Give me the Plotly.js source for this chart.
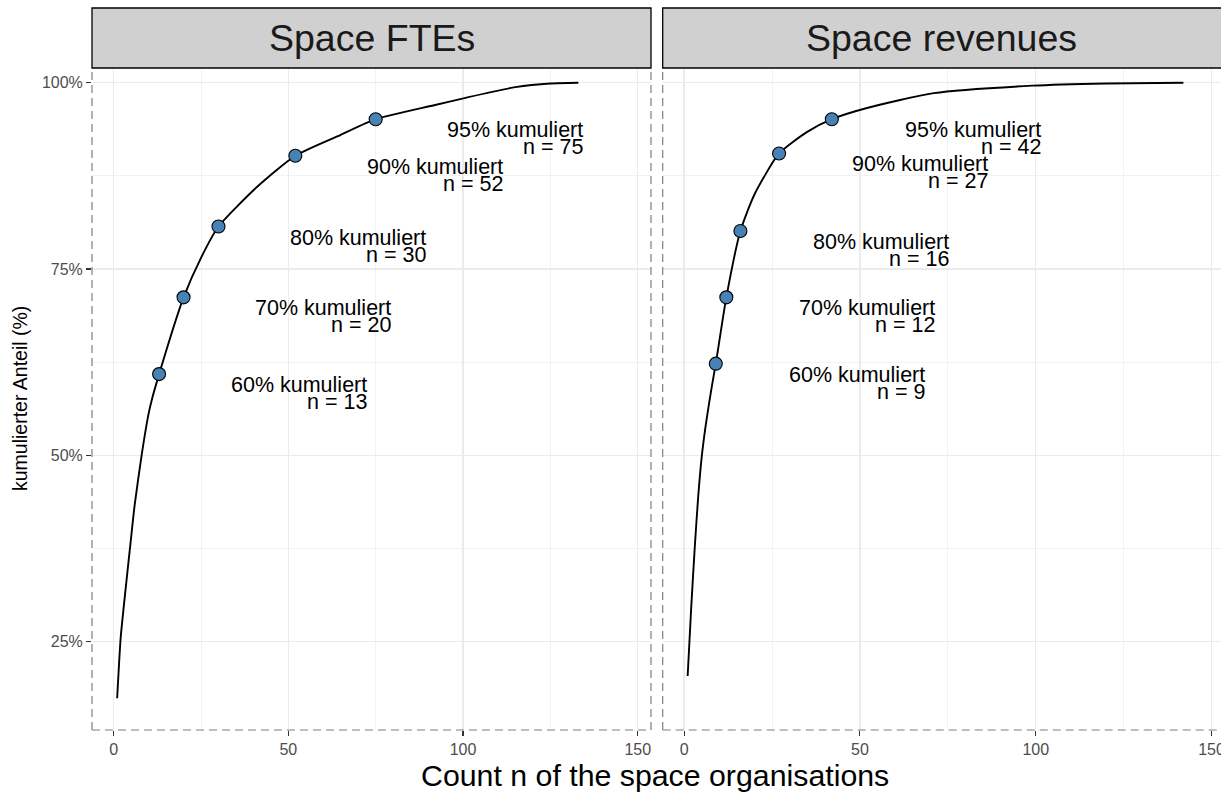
<!DOCTYPE html>
<html>
<head>
<meta charset="utf-8">
<script src="https://cdn.plot.ly/plotly-3.0.1.min.js"></script>
<style>html,body{margin:0;padding:0;background:#fff;}#chart{width:1221px;height:795px;}</style>
</head>
<body>
<div id="chart"></div>
<script>
// ---- data ----
const panelTitles = ["Space FTEs", "Space revenues"];
const fteN     = [1, 2, 3, 5, 6, 8, 10, 11, 13, 17, 20, 25, 30, 41, 52, 65, 75, 92, 101, 115, 125, 133];
const fteShare = [17.4, 25.5, 30.2, 39.0, 43.3, 50.0, 55.6, 57.6, 60.9, 67.0, 71.2, 76.5, 80.7, 86.0, 90.2, 93.0, 95.1, 97.0, 98.0, 99.4, 99.9, 100];
const revN     = [1, 2, 3, 4, 5, 6, 7, 8, 9, 12, 16, 20, 27, 35, 42, 52, 71, 99, 120, 142];
const revShare = [20.4, 29.5, 37.5, 44.5, 49.8, 53.6, 56.7, 59.6, 62.3, 71.2, 80.1, 85.0, 90.5, 93.4, 95.1, 96.6, 98.6, 99.6, 99.9, 100];
const thresholds   = ["60%", "70%", "80%", "90%", "95%"];
const fteMarkN     = [13, 20, 30, 52, 75];
const fteMarkShare = [60.9, 71.2, 80.7, 90.2, 95.1];
const revMarkN     = [9, 12, 16, 27, 42];
const revMarkShare = [62.3, 71.2, 80.1, 90.5, 95.1];
const xTicks = [0, 50, 100, 150];
const xMinor = [25, 75, 125];
const yTicks = [25, 50, 75, 100];
const yTickText = ["25%", "50%", "75%", "100%"];
const yMinor = [37.5, 62.5, 87.5];
const labelOffsetN = 60;

const FONT = "Liberation Sans, Arial, Helvetica, sans-serif";

function lineTrace(x, y, xa, ya) {
  return {x: x, y: y, xaxis: xa, yaxis: ya, type: "scatter", mode: "lines",
          line: {color: "#000", width: 1.9, shape: "spline", smoothing: 0.6},
          hoverinfo: "skip", showlegend: false};
}
function markTrace(x, y, xa, ya) {
  return {x: x, y: y, xaxis: xa, yaxis: ya, type: "scatter", mode: "markers",
          marker: {size: 13, color: "#4682b4", line: {color: "#000", width: 1.1}},
          hoverinfo: "skip", showlegend: false};
}
const data = [
  lineTrace(fteN, fteShare, "x", "y"),
  markTrace(fteMarkN, fteMarkShare, "x", "y"),
  lineTrace(revN, revShare, "x2", "y2"),
  markTrace(revMarkN, revMarkShare, "x2", "y2")
];

const annotations = [];
function addLabels(ns, shares, xref, yref) {
  for (let i = 0; i < ns.length; i++) {
    const base = {xref: xref, yref: yref, x: ns[i] + labelOffsetN, y: shares[i],
                  xanchor: "right", yanchor: "middle", showarrow: false,
                  font: {family: FONT, size: 21.5, color: "#000"}};
    annotations.push(Object.assign({}, base, {text: thresholds[i] + " kumuliert", yshift: -11}));
    annotations.push(Object.assign({}, base, {text: "n = " + ns[i], yshift: -28}));
  }
}
addLabels(fteMarkN, fteMarkShare, "x", "y");
addLabels(revMarkN, revMarkShare, "x2", "y2");

const plotH = 795 - 68 - 65;
const stripTop = 1 + 60 / plotH;
const stripMid = 1 + 30 / plotH;

["x", "x2"].forEach(function (xr, i) {
  annotations.push({xref: xr + " domain", yref: "paper", x: 0.5, y: stripMid,
    xanchor: "center", yanchor: "middle", showarrow: false, text: panelTitles[i],
    font: {family: FONT, size: 37.5, color: "#1a1a1a"}});
});
annotations.push({xref: "paper", yref: "paper", x: (654.5 - 92) / 1129, y: (730 - 775) / plotH,
  xanchor: "center", yanchor: "middle", showarrow: false,
  text: "Count n of the space organisations", font: {family: FONT, size: 30.3, color: "#000"}});
annotations.push({xref: "paper", yref: "paper", x: (20 - 92) / 1129, y: 0.5,
  xanchor: "center", yanchor: "middle", showarrow: false, textangle: -90,
  text: "kumulierter Anteil (%)", font: {family: FONT, size: 19.5, color: "#000"}});

const dashed = {color: "#7f7f7f", width: 1.2, dash: "8px,5px"};
const shapes = [
  {type: "line", xref: "x domain", yref: "paper", x0: 0, x1: 0, y0: 0, y1: 1, line: dashed},
  {type: "line", xref: "x domain", yref: "paper", x0: 0, x1: 1, y0: 0, y1: 0, line: dashed},
  {type: "line", xref: "x domain", yref: "paper", x0: 1, x1: 1, y0: 0, y1: 1, line: dashed},
  {type: "line", xref: "x2 domain", yref: "paper", x0: 0, x1: 0, y0: 0, y1: 1, line: dashed},
  {type: "line", xref: "x2 domain", yref: "paper", x0: 0, x1: 1, y0: 0, y1: 0, line: dashed},
  {type: "rect", xref: "x domain", yref: "paper", x0: 0, x1: 1, y0: 1, y1: stripTop,
   fillcolor: "#d1d0d1", line: {color: "#000", width: 1.3}},
  {type: "rect", xref: "x2 domain", yref: "paper", x0: 0, x1: 1.01, y0: 1, y1: stripTop,
   fillcolor: "#d1d0d1", line: {color: "#000", width: 1.3}}
];

function xAxis(domain, range, anchor) {
  return {domain: domain, range: range, anchor: anchor, tickmode: "array", tickvals: xTicks,
    ticks: "outside", ticklen: 5, tickwidth: 1.1, tickcolor: "#333",
    tickfont: {family: FONT, size: 16, color: "#4d4d4d"}, ticklabeloverflow: "allow",
    showgrid: true, gridcolor: "#ebebeb", gridwidth: 1.5, zeroline: false, showline: false,
    minor: {tickvals: xMinor, showgrid: true, gridcolor: "#f1f1f1", gridwidth: 0.9, ticks: ""},
    fixedrange: true};
}
const layout = {
  width: 1221, height: 795,
  margin: {l: 92, r: 0, t: 68, b: 65, pad: 0},
  paper_bgcolor: "#fff", plot_bgcolor: "#fff",
  font: {family: FONT},
  showlegend: false,
  xaxis: xAxis([0, (651 - 92) / 1129], [-6.2, 153.8], "y"),
  xaxis2: xAxis([(662.7 - 92) / 1129, 1], [-6.1, 152.7], "y2"),
  yaxis: {domain: [0, 1], range: [13.15, 101.97], anchor: "x", tickmode: "array",
    tickvals: yTicks, ticktext: yTickText, ticks: "outside", ticklen: 5, tickwidth: 1.1, tickcolor: "#333",
    tickfont: {family: FONT, size: 16, color: "#4d4d4d"},
    showgrid: true, gridcolor: "#ebebeb", gridwidth: 1.5, zeroline: false, showline: false,
    minor: {tickvals: yMinor, showgrid: true, gridcolor: "#f1f1f1", gridwidth: 0.9, ticks: ""},
    fixedrange: true},
  yaxis2: {domain: [0, 1], range: [13.15, 101.97], anchor: "x2", matches: "y",
    tickmode: "array", tickvals: yTicks, showticklabels: false, ticks: "",
    showgrid: true, gridcolor: "#ebebeb", gridwidth: 1.5, zeroline: false, showline: false,
    minor: {tickvals: yMinor, showgrid: true, gridcolor: "#f1f1f1", gridwidth: 0.9, ticks: ""},
    fixedrange: true},
  shapes: shapes,
  annotations: annotations
};
Plotly.newPlot("chart", data, layout, {displayModeBar: false, staticPlot: true});
</script>
</body>
</html>
